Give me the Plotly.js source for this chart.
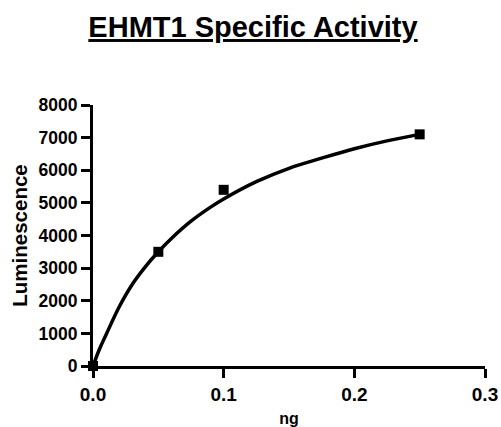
<!DOCTYPE html>
<html>
<head>
<meta charset="utf-8">
<script src="https://cdn.plot.ly/plotly-3.0.1.min.js"></script>
<style>html,body{margin:0;padding:0;background:#fff;}#chart{width:501px;height:427px;}</style>
</head>
<body>
<div id="chart"></div>
<script>
// Measured data points
const doseNg = [0, 0.05, 0.1, 0.25];
const luminescence = [0, 3500, 5400, 7100];

// Fitted curve
const fitX = [0, 0.005, 0.01, 0.02, 0.03, 0.04, 0.05, 0.06, 0.075, 0.09, 0.1, 0.125, 0.15, 0.175, 0.2, 0.225, 0.25];
const fitY = [0, 520, 960, 1810, 2500, 3040, 3500, 3910, 4440, 4870, 5120, 5650, 6060, 6370, 6660, 6900, 7100];

// Tick labels
const xTickVals = [0, 0.1, 0.2, 0.3];
const xTickText = ["0.0", "0.1", "0.2", "0.3"];
const yTickVals = [0, 1000, 2000, 3000, 4000, 5000, 6000, 7000, 8000];
const yTickText = ["0", "1000", "2000", "3000", "4000", "5000", "6000", "7000", "8000"];

const FONT = "Liberation Sans, Arial, Helvetica, sans-serif";
const bold = s => "<b>" + s + "</b>";

const traces = [
  {
    x: fitX, y: fitY, type: "scatter", mode: "lines",
    line: {color: "#000", width: 3.5, shape: "spline", smoothing: 1},
    hoverinfo: "skip", cliponaxis: false
  },
  {
    x: doseNg, y: luminescence, type: "scatter", mode: "markers",
    marker: {symbol: "square", size: 10, color: "#000"},
    cliponaxis: false
  }
];

const layout = {
  width: 501, height: 427,
  paper_bgcolor: "#fff", plot_bgcolor: "#fff",
  showlegend: false,
  margin: {l: 93, r: 16, t: 105, b: 61},
  font: {family: FONT, color: "#000"},
  title: {
    text: "<b>EHMT1 Specific Activity</b>",
    font: {family: FONT, size: 29, color: "#000", lineposition: "under"},
    xref: "container", x: 0.505, xanchor: "center",
    yref: "container", y: 0.937, yanchor: "middle"
  },
  xaxis: {
    range: [0, 0.3],
    tickvals: xTickVals, ticktext: xTickText.map(bold),
    tickfont: {family: FONT, size: 19, color: "#000"},
    ticks: "outside", ticklen: 9, tickwidth: 3, tickcolor: "#000",
    showline: true, linecolor: "#000", linewidth: 3,
    showgrid: false, zeroline: false,
    title: {text: "<b>ng</b>", font: {family: FONT, size: 16, color: "#000"}, standoff: 12}
  },
  yaxis: {
    range: [0, 8000],
    tickvals: yTickVals, ticktext: yTickText.map(bold),
    tickfont: {family: FONT, size: 17.5, color: "#000"},
    ticks: "outside", ticklen: 9, tickwidth: 3, tickcolor: "#000",
    showline: true, linecolor: "#000", linewidth: 3,
    showgrid: false, zeroline: false,
    title: {text: "<b>Luminescence</b>", font: {family: FONT, size: 20.5, color: "#000"}, standoff: 6}
  }
};

Plotly.newPlot("chart", traces, layout, {displayModeBar: false, staticPlot: true});
</script>
</body>
</html>
